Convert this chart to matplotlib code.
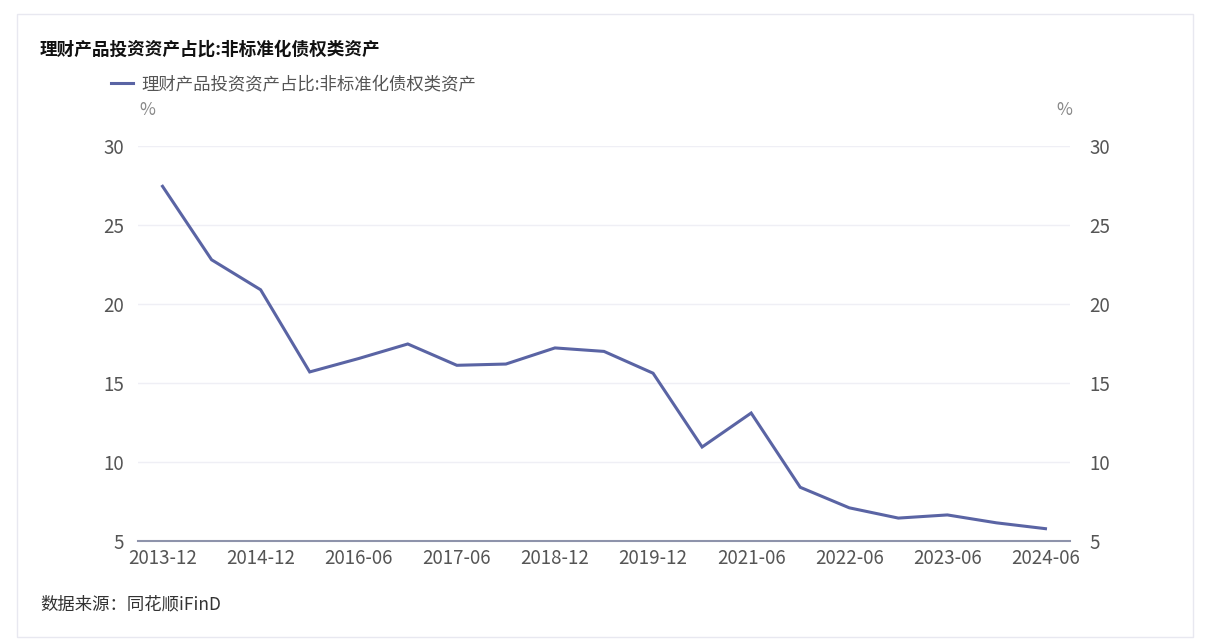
import matplotlib
matplotlib.use('Agg')
import matplotlib.pyplot as plt
from matplotlib.patches import Rectangle

plt.rcParams['font.family'] = ['Noto Sans CJK SC', 'DejaVu Sans']

# 数据
dates = ['2013-12', '2014-06', '2014-12', '2015-12', '2016-06', '2016-12',
         '2017-06', '2017-12', '2018-12', '2019-06', '2019-12', '2020-12',
         '2021-06', '2021-12', '2022-06', '2022-12', '2023-06', '2023-12',
         '2024-06']
values = [27.45, 22.8, 20.9, 15.7, 16.55, 17.47, 16.12, 16.2, 17.22, 17.0,
          15.62, 10.95, 13.1, 8.4, 7.1, 6.45, 6.65, 6.15, 5.78]
y_ticks = [5, 10, 15, 20, 25, 30]
title = '理财产品投资资产占比:非标准化债权类资产'
source = '数据来源：同花顺iFinD'

line_color = '#5a64a4'
text_color = '#555555'

W, H = 1209, 639
fig = plt.figure(figsize=(W / 100, H / 100), dpi=100)

# 外框
fig.patches.append(Rectangle((17 / W, 2 / H), 1176 / W, 623 / H,
                             transform=fig.transFigure, fill=False,
                             edgecolor='#e8e8f0', linewidth=1))

ax = fig.add_axes([138 / W, 1 - 541 / H, (1070 - 138) / W, (541 - 146) / H])
x = list(range(len(dates)))
ax.plot(x, values, color=line_color, linewidth=2.2,
        label=title, solid_joinstyle='miter')

ax.set_xlim(-0.5, len(dates) - 0.5)
ax.set_ylim(5, 30)
ax.set_yticks(y_ticks)
ax.set_xticks(x[::2])
ax.set_xticklabels(dates[::2])
ax.grid(axis='y', color='#efeff5', linewidth=1)
ax.set_axisbelow(True)
for s in ['top', 'left', 'right']:
    ax.spines[s].set_visible(False)
ax.spines['bottom'].set_color('#8e93ab')
ax.spines['bottom'].set_linewidth(1.5)
ax.tick_params(axis='both', length=0, labelsize=13.5, colors=text_color)
ax.tick_params(axis='y', pad=10)
ax.tick_params(axis='x', pad=5)

ax2 = ax.twinx()
ax2.set_ylim(5, 30)
ax2.set_yticks(y_ticks)
for s in ['top', 'left', 'right', 'bottom']:
    ax2.spines[s].set_visible(False)
ax2.tick_params(axis='y', length=0, labelsize=13.5, colors=text_color, pad=14)

fig.text(40 / W, 1 - 50 / H, title, fontsize=12.7, fontweight='bold',
         color='#111111', va='center', ha='left')
fig.text(147 / W, 1 - 110 / H, '%', fontsize=12.5, color='#888888',
         va='center', ha='center')
fig.text(1064 / W, 1 - 110 / H, '%', fontsize=12.5, color='#888888',
         va='center', ha='center')

leg = ax.legend(loc='center left', bbox_to_anchor=(95 / W, 1 - 84 / H),
                bbox_transform=fig.transFigure, frameon=False,
                fontsize=12.5, handlelength=1.3, handletextpad=0.45)
for t in leg.get_texts():
    t.set_color(text_color)

fig.text(40 / W, 1 - 604 / H, source, fontsize=12.5, color='#333333',
         va='center', ha='left')

fig.savefig('out.png', dpi=100, facecolor='white')
